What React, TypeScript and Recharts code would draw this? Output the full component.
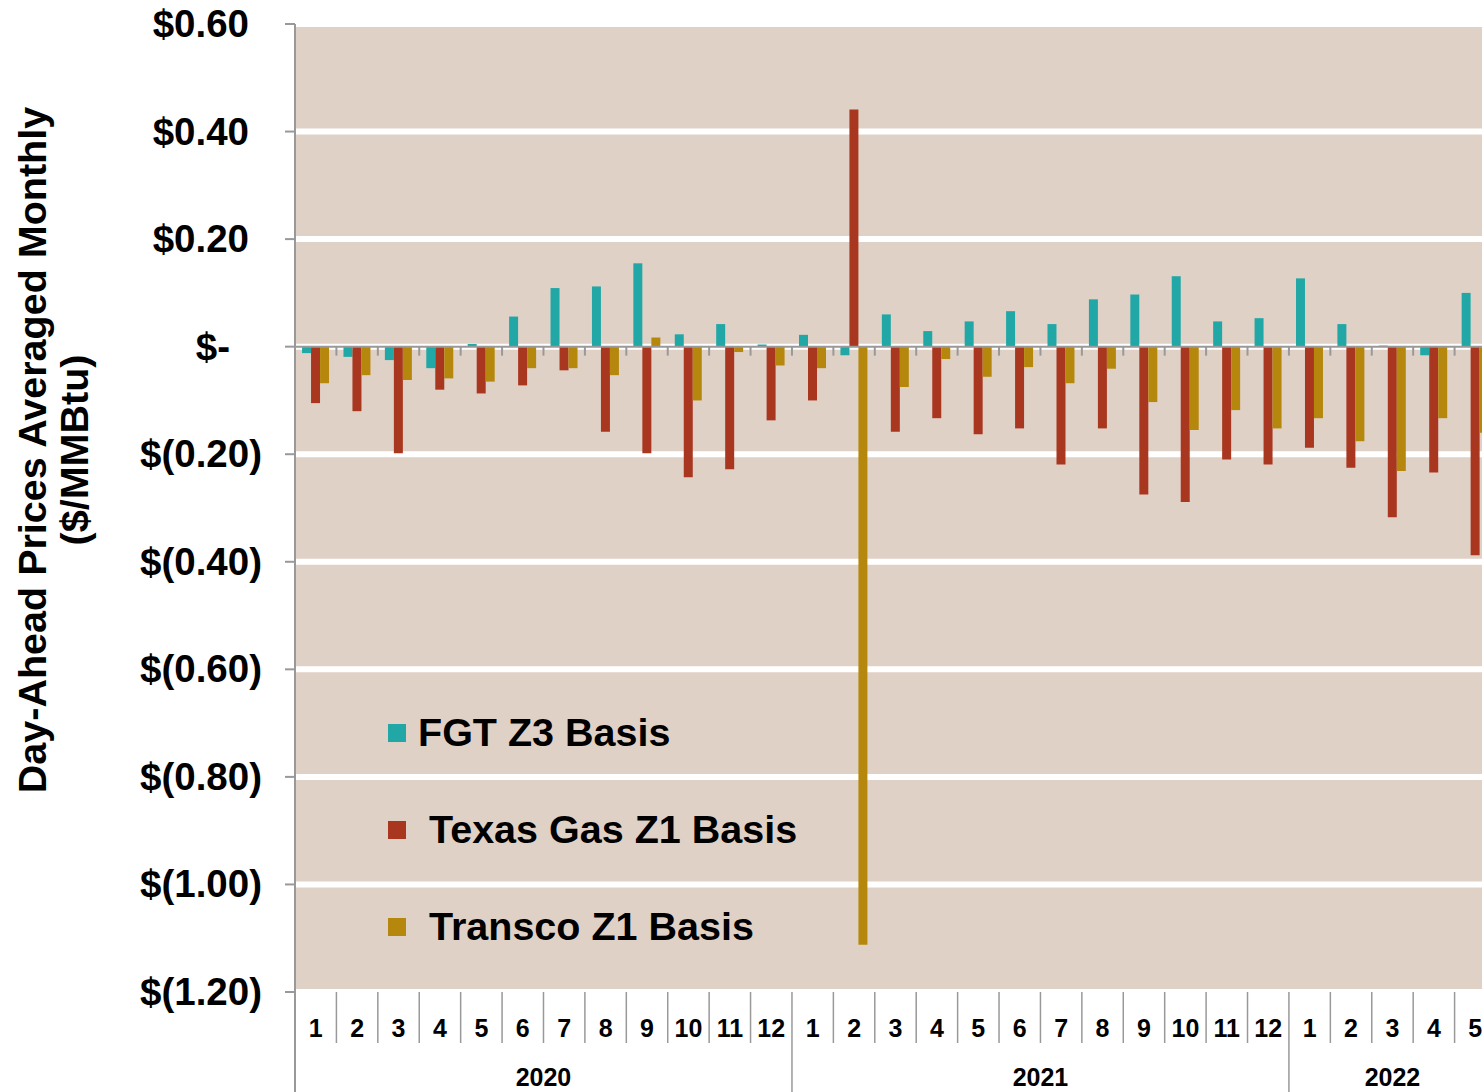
import React from 'react';
import { BarChart, Bar, XAxis, YAxis, CartesianGrid, ReferenceLine } from 'recharts';

const years = ['2020', '2021', '2022'];
const monthsPerYear = [12, 12, 5];
const months = [1, 2, 3, 4, 5, 6, 7, 8, 9, 10, 11, 12, 1, 2, 3, 4, 5, 6, 7, 8, 9, 10, 11, 12, 1, 2, 3, 4, 5];

const fgt = [
  -0.012, -0.019, -0.025, -0.04, 0.005, 0.056, 0.109, 0.112, 0.155, 0.023, 0.042, 0.004,
  0.022, -0.016, 0.06, 0.029, 0.047, 0.066, 0.042, 0.088, 0.097, 0.131, 0.047, 0.053,
  0.127, 0.042, 0.002, -0.016, 0.1,
];
const texas = [
  -0.105, -0.12, -0.198, -0.08, -0.087, -0.072, -0.044, -0.158, -0.198, -0.243, -0.228, -0.137,
  -0.1, 0.441, -0.158, -0.133, -0.163, -0.152, -0.219, -0.152, -0.275, -0.289, -0.21, -0.219,
  -0.188, -0.225, -0.317, -0.234, -0.388,
];
const transco = [
  -0.068, -0.053, -0.062, -0.059, -0.065, -0.04, -0.04, -0.053, 0.017, -0.1, -0.01, -0.035,
  -0.04, -1.112, -0.075, -0.023, -0.056, -0.038, -0.068, -0.041, -0.103, -0.155, -0.118, -0.152,
  -0.133, -0.176, -0.231, -0.133, -0.16,
];

const yTicks = [0.6, 0.4, 0.2, 0, -0.2, -0.4, -0.6, -0.8, -1.0, -1.2];

const series = [
  { key: 'fgt', name: 'FGT Z3 Basis', color: '#21A8A6' },
  { key: 'texas', name: ' Texas Gas Z1 Basis', color: '#A9371F' },
  { key: 'transco', name: ' Transco Z1 Basis', color: '#B5880D' },
];

// year of each category, from the per-year month counts
const yearIdx: number[] = [];
monthsPerYear.forEach((n, i) => {
  for (let k = 0; k < n; k++) yearIdx.push(i);
});

const data = months.map((m, i) => ({
  key: `${years[yearIdx[i]]}-${m}`,
  month: m,
  fgt: fgt[i],
  texas: texas[i],
  transco: transco[i],
}));

const FONT = '"Liberation Sans", Arial, sans-serif';
const CHART_W = 1500;
const CHART_H = 1092;
const LEFT = 295;
const RIGHT = 4;
const BAND = (CHART_W - LEFT - RIGHT) / months.length;

const fmt = (v: number) => {
  if (Math.abs(v) < 1e-9) return '$-';
  if (v > 0) return `$${v.toFixed(2)}`;
  return `$(${Math.abs(v).toFixed(2)})`;
};

const YTick = ({ x, y, payload }: any) => {
  const v = payload.value;
  const off = Math.abs(v) < 1e-9 ? 55 : v > 0 ? 36 : 23;
  return (
    <text x={x - off} y={y} dy={13} textAnchor="end" fontFamily={FONT} fontWeight="bold" fontSize={38.5} fill="#000">
      {fmt(v)}
    </text>
  );
};

const MonthTick = ({ x, y, index }: any) => {
  const m = months[index];
  const yi = yearIdx[index];
  const lastOfYear = index === months.length - 1 || yearIdx[index + 1] !== yi;
  const right = x + BAND / 2;
  let yearLabel = null;
  if (index === 0 || yearIdx[index - 1] !== yi) {
    const cx = x - BAND / 2 + (monthsPerYear[yi] * BAND) / 2;
    yearLabel = (
      <text x={cx} y={y + 94} textAnchor="middle" fontFamily={FONT} fontWeight="bold" fontSize={25} fill="#000">
        {years[yi]}
      </text>
    );
  }
  return (
    <g>
      {index === 0 && <line x1={x - BAND / 2} x2={x - BAND / 2} y1={y} y2={y + 100} stroke="#999" strokeWidth={2} />}
      <text x={x} y={y + 45} textAnchor="middle" fontFamily={FONT} fontWeight="bold" fontSize={25} fill="#000">
        {m}
      </text>
      <line x1={right} x2={right} y1={y} y2={y + (lastOfYear ? 100 : 51)} stroke="#999" strokeWidth={1.5} />
      {yearLabel}
    </g>
  );
};

const ZeroLine = ({ x1, y1, x2 }: any) => {
  const step = (x2 - x1) / months.length;
  return (
    <g>
      <line x1={x1} x2={x2} y1={y1} y2={y1} stroke="#999" strokeWidth={2} />
      {months.slice(1).map((_, k) => (
        <line key={k} x1={x1 + (k + 1) * step} x2={x1 + (k + 1) * step} y1={y1} y2={y1 + 9} stroke="#999" strokeWidth={2} />
      ))}
    </g>
  );
};

const YTitle = ({ viewBox }: any) => {
  const cy = viewBox.y + viewBox.height / 2 - 58;
  return (
    <g fontFamily={FONT} fontWeight="bold" fontSize={39.5} fill="#000">
      <text x={33} y={cy} dy={13} textAnchor="middle" transform={`rotate(-90, 33, ${cy})`}>
        Day-Ahead Prices Averaged Monthly
      </text>
      <text x={75} y={cy} dy={13} textAnchor="middle" transform={`rotate(-90, 75, ${cy})`}>
        ($/MMBtu)
      </text>
    </g>
  );
};

const LegendBox = () => (
  <div style={{ position: 'absolute', left: 388, top: 684, fontFamily: FONT, fontWeight: 'bold', fontSize: 39.5, color: '#000' }}>
    {series.map((s) => (
      <div key={s.key} style={{ height: 97, display: 'flex', alignItems: 'center' }}>
        <span style={{ width: 18, height: 18, background: s.color, marginRight: 12, display: 'inline-block' }} />
        <span style={{ whiteSpace: 'pre' }}>{s.name}</span>
      </div>
    ))}
  </div>
);

export default function App() {
  return (
    <div style={{ position: 'absolute', left: 0, top: 0, width: 1482, height: 1092, overflow: 'hidden', background: '#fff' }}>
      <BarChart
        width={CHART_W}
        height={CHART_H}
        data={data}
        margin={{ top: 24, right: RIGHT, bottom: 0, left: 0 }}
        barCategoryGap="17%"
        barGap={0}
      >
        <CartesianGrid vertical={false} stroke="#fff" strokeWidth={6} fill="#E0D1C7" />
        <XAxis
          dataKey="key"
          height={100}
          interval={0}
          tick={<MonthTick />}
          tickSize={0}
          tickMargin={0}
          tickLine={false}
          axisLine={false}
        />
        <YAxis
          width={LEFT}
          domain={[-1.2, 0.6]}
          ticks={yTicks}
          tick={<YTick />}
          tickSize={10}
          tickMargin={0}
          tickLine={{ stroke: '#999', strokeWidth: 2 }}
          axisLine={{ stroke: '#999', strokeWidth: 2 }}
          allowDataOverflow
          label={<YTitle />}
        />
        {series.map((s) => (
          <Bar key={s.key} dataKey={s.key} name={s.name} fill={s.color} isAnimationActive={false} />
        ))}
        <ReferenceLine y={0} shape={<ZeroLine />} />
      </BarChart>
      <LegendBox />
    </div>
  );
}
